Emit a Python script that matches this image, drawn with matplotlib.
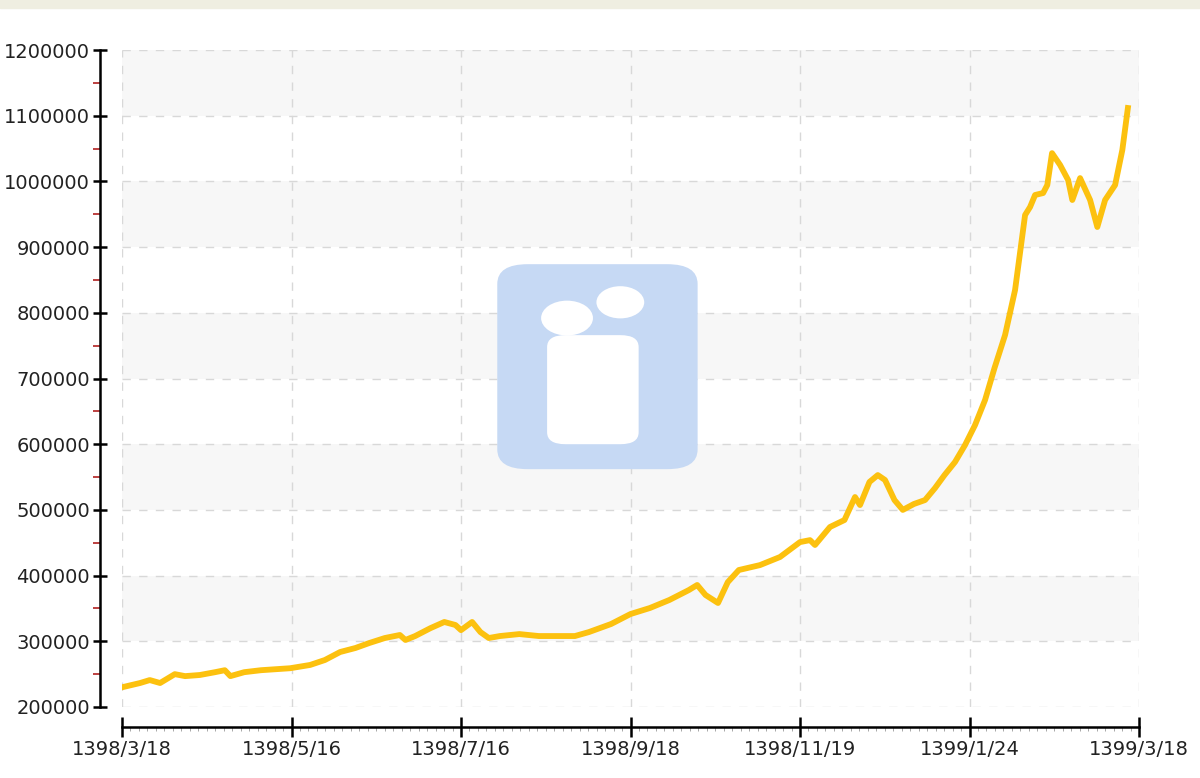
import numpy as np
import matplotlib.pyplot as plt
from matplotlib.patches import Rectangle, FancyBboxPatch, Ellipse
from matplotlib.ticker import MultipleLocator, FormatStrFormatter

# روزها از 1398/3/18
days = [0, 6.5, 10, 13.7, 19, 22.7, 28, 33.5, 37, 39, 44, 50, 60.5, 67.7, 73,
        78.5, 84, 89, 94.6, 100, 102, 105.5, 111, 116, 120, 122, 126, 129, 132,
        136, 143, 150, 158, 163, 168, 176, 183, 190, 197, 204, 207, 210, 214.5,
        218, 222, 229.6, 236.8, 244, 247.6, 249.4, 254.8, 260, 263.8, 265.6, 269,
        272, 274.6, 278, 281, 285, 289, 292.6, 296, 299.8, 303.4, 307, 310.6,
        314, 317.8, 321.4, 325, 326.8, 328.6, 331.5, 333, 334.7, 337.6, 340.5,
        342, 344.8, 348.4, 351, 353.8, 357.4, 360, 362]
prices = [230000, 236500, 241000, 236500, 250000, 247000, 248700, 253000, 256000,
          247000, 253000, 256000, 259000, 264000, 271500, 283700, 289800, 297400,
          305000, 309600, 302000, 308000, 320000, 329400, 324800, 317000, 329400,
          314000, 305000, 308000, 311000, 308000, 308000, 308000, 314000, 326300,
          341500, 350700, 362900, 378000, 385700, 370500, 358300, 390000, 408500,
          416000, 428300, 451000, 454000, 446600, 474000, 484600, 519600, 507400,
          542500, 553000, 545500, 515000, 500000, 509000, 515000, 533300, 553000,
          573000, 598800, 629200, 667300, 716000, 766200, 834700, 948800, 961000,
          979300, 982300, 994500, 1043000, 1025000, 1002000, 971700, 1005000,
          971700, 930600, 971700, 994500, 1047800, 1111700]

tick_days = [0, 61, 122, 183, 244, 305, 366]
tick_labels = ['1398/3/18', '1398/5/16', '1398/7/16', '1398/9/18',
               '1398/11/19', '1399/1/24', '1399/3/18']

fig = plt.figure(figsize=(12, 7.78), dpi=100)
fig.patches.append(Rectangle((0, 1 - 8 / 778), 1, 8 / 778, transform=fig.transFigure,
                             color='#efeee1', zorder=0))

ax = fig.add_axes([122 / 1200, 1 - 707 / 778, 1017 / 1200, 657 / 778])
ax.set_xlim(0, 366)
ax.set_ylim(200000, 1200000)

# نوارهای خاکستری پس زمینه
for v in range(300000, 1200000, 200000):
    ax.axhspan(v, v + 100000, color='#f7f7f7', lw=0, zorder=0)
ax.grid(True, color='#d8d8d8', ls=(0, (6, 6)), lw=1, zorder=1)

# لوگو
logo = FancyBboxPatch((0.369, 0.362), 0.197, 0.312,
                      boxstyle='round,pad=0,rounding_size=0.03',
                      transform=ax.transAxes, color='#c6d9f4', lw=0, zorder=2)
ax.add_patch(logo)
ax.add_patch(Ellipse((0.4376, 0.592), 0.051, 0.053, transform=ax.transAxes,
                     color='white', lw=0, zorder=2))
ax.add_patch(Ellipse((0.490, 0.616), 0.047, 0.049, transform=ax.transAxes,
                     color='white', lw=0, zorder=2))
ax.add_patch(FancyBboxPatch((0.418, 0.40), 0.09, 0.166,
                            boxstyle='round,pad=0,rounding_size=0.018',
                            transform=ax.transAxes, color='white', lw=0, zorder=2))

ax.plot(days, prices, color='#fcc10f', lw=4.2, zorder=3, solid_joinstyle='round')

ax.spines['top'].set_visible(False)
ax.spines['right'].set_visible(False)
ax.spines['left'].set_position(('outward', 16))
ax.spines['bottom'].set_position(('outward', 14.5))
ax.spines['left'].set_linewidth(1.8)
ax.spines['bottom'].set_linewidth(1.8)

ax.yaxis.set_major_locator(MultipleLocator(100000))
ax.yaxis.set_minor_locator(MultipleLocator(50000))
ax.yaxis.set_major_formatter(FormatStrFormatter('%d'))
ax.tick_params(axis='y', which='major', direction='inout', length=10, width=1.8,
               labelsize=14, pad=2, labelcolor='#222222')
ax.tick_params(axis='y', which='minor', direction='out', length=5, width=1.2,
               color='#b02020')
ax.set_xticks(tick_days)
ax.set_xticklabels(tick_labels)
ax.xaxis.set_minor_locator(MultipleLocator(366 / 6 / 20))
ax.tick_params(axis='x', which='major', direction='inout', length=14, width=1.8,
               labelsize=14, pad=2, labelcolor='#222222')
ax.tick_params(axis='x', which='minor', direction='out', length=3, width=0.6,
               color='#999999')

fig.savefig('out.png', dpi=100)
